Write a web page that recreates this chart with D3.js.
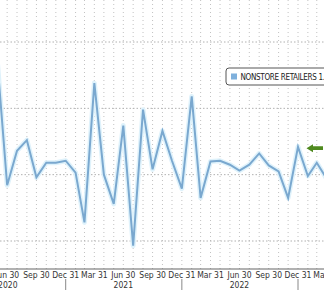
<!DOCTYPE html>
<html>
<head>
<meta charset="utf-8">
<script src="https://cdn.jsdelivr.net/npm/d3@7"></script>
<style>
  body { margin: 0; background: #fff; }
  text { font-family: "Liberation Sans Narrow", "DejaVu Sans Condensed", sans-serif; }
</style>
</head>
<body>
<div id="chart_area"></div>
<script>
// month-end dates and values (nonstore retailers, % m/m)
const months = [
  "2020-05-31", "2020-06-30", "2020-07-31", "2020-08-31", "2020-09-30", "2020-10-31", "2020-11-30", "2020-12-31",
  "2021-01-31", "2021-02-28", "2021-03-31", "2021-04-30", "2021-05-31", "2021-06-30", "2021-07-31", "2021-08-31",
  "2021-09-30", "2021-10-31", "2021-11-30", "2021-12-31", "2022-01-31", "2022-02-28", "2022-03-31", "2022-04-30",
  "2022-05-31", "2022-06-30", "2022-07-31", "2022-08-31", "2022-09-30", "2022-10-31", "2022-11-30", "2022-12-31",
  "2023-01-31", "2023-02-28", "2023-03-31"
];
const values = [
  8.3, -0.8, 1.8, 2.6, -0.2, 0.9, 0.9, 1.05,
  0.15, -3.6, 6.9, 0.0, -2.2, 3.7, -5.35, 4.9,
  0.4, 3.3, 1.05, -1.05, 5.9, -1.75, 1.0, 1.05,
  0.75, 0.3, 0.75, 1.6, 0.7, 0.25, -1.75, 2.1,
  -0.1, 0.9, -0.3
];

// axis labels
const quarterTicks = [
  "2020-06-30", "2020-09-30", "2020-12-31", "2021-03-31", "2021-06-30", "2021-09-30",
  "2021-12-31", "2022-03-31", "2022-06-30", "2022-09-30", "2022-12-31", "2023-03-31"
];
const yearLabels = ["2020", "2021", "2022"];
const yearLabelDates = ["2020-07-02", "2021-06-30", "2022-06-30"];
const yearBreaks = ["2020-12-31", "2021-12-31", "2022-12-31"];
const gridValues = [10, 5, 0, -5];
const seriesName = "NONSTORE RETAILERS 1.";
const lastValueArrow = 2.0;

const parse = d3.timeParse("%Y-%m-%d");
const data = months.map((m, i) => ({ date: parse(m), value: values[i] }));

const width = 324, height = 290, axisY = 269;

const svg = d3.select("#chart_area")
  .append("svg")
  .attr("width", width)
  .attr("height", height);

// scales
const x = d3.scaleTime()
  .domain([parse("2020-12-31"), parse("2022-12-31")])
  .range([65.7, 298]);

const y = d3.scaleLinear()
  .domain([-5, 10])
  .range([241, 42]);

svg.append("defs").append("clipPath")
  .attr("id", "clip")
  .append("rect")
  .attr("x", 0).attr("y", 0)
  .attr("width", width).attr("height", axisY);

// monthly dotted grid
const allMonths = d3.timeMonth.range(parse("2020-01-01"), parse("2023-06-01"))
  .map(d => d3.timeDay.offset(d3.timeMonth.offset(d, 1), -1));
svg.append("g")
  .selectAll("line")
  .data(allMonths)
  .join("line")
  .attr("x1", d => x(d)).attr("x2", d => x(d))
  .attr("y1", 0).attr("y2", axisY)
  .attr("stroke", "#c2c2c2")
  .attr("stroke-width", 1)
  .attr("stroke-dasharray", "1,3");

// horizontal dashed grid
svg.append("g")
  .selectAll("line")
  .data(gridValues)
  .join("line")
  .attr("x1", 0).attr("x2", width)
  .attr("y1", d => y(d)).attr("y2", d => y(d))
  .attr("stroke", "#b0b0b0")
  .attr("stroke-width", 1)
  .attr("stroke-dasharray", "1.5,2");

// the series
const line = d3.line()
  .x(d => x(d.date))
  .y(d => y(d.value));

const plot = svg.append("g").attr("clip-path", "url(#clip)");

plot.append("path")
  .datum(data)
  .attr("fill", "none")
  .attr("stroke", "#dff2fb")
  .attr("stroke-width", 5)
  .attr("stroke-linejoin", "round")
  .attr("d", line);

plot.append("path")
  .datum(data)
  .attr("fill", "none")
  .attr("stroke", "#7aa8cf")
  .attr("stroke-width", 2)
  .attr("stroke-linejoin", "miter")
  .attr("d", line);

// x axis line
svg.append("line")
  .attr("x1", 0).attr("x2", width)
  .attr("y1", axisY).attr("y2", axisY)
  .attr("stroke", "#666")
  .attr("stroke-width", 1.2);

// quarter labels
svg.append("g")
  .selectAll("text")
  .data(quarterTicks)
  .join("text")
  .attr("x", d => x(parse(d)))
  .attr("y", 278)
  .attr("text-anchor", "middle")
  .attr("font-size", 8.5)
  .attr("fill", "#333")
  .text(d => d3.timeFormat("%b %d")(parse(d)));

// year separators and labels
svg.append("g")
  .selectAll("line")
  .data(yearBreaks)
  .join("line")
  .attr("x1", d => x(parse(d))).attr("x2", d => x(parse(d)))
  .attr("y1", 279).attr("y2", 290)
  .attr("stroke", "#888");

svg.append("g")
  .selectAll("text")
  .data(yearLabels)
  .join("text")
  .attr("x", (d, i) => x(parse(yearLabelDates[i])))
  .attr("y", 288)
  .attr("text-anchor", "middle")
  .attr("font-size", 8.5)
  .attr("fill", "#333")
  .text(d => d);

// legend
const legend = svg.append("g").attr("transform", "translate(226,68)");
legend.append("rect")
  .attr("width", 120).attr("height", 17)
  .attr("rx", 3)
  .attr("fill", "#fff")
  .attr("stroke", "#555")
  .attr("stroke-width", 1);
legend.append("rect")
  .attr("x", 5).attr("y", 5.5)
  .attr("width", 6).attr("height", 6)
  .attr("fill", "#7fb0dc");
legend.append("text")
  .attr("x", 14.5).attr("y", 12)
  .attr("font-size", 8)
  .attr("letter-spacing", -0.3)
  .attr("fill", "#222")
  .text(seriesName);

// last value arrow
const ay = y(lastValueArrow);
svg.append("path")
  .attr("d", `M306.5,${ay} L313,${ay - 4} L313,${ay - 1.8} L323,${ay - 1.8} L323,${ay + 1.8} L313,${ay + 1.8} L313,${ay + 4} Z`)
  .attr("fill", "#4f8a1f");
</script>
</body>
</html>
